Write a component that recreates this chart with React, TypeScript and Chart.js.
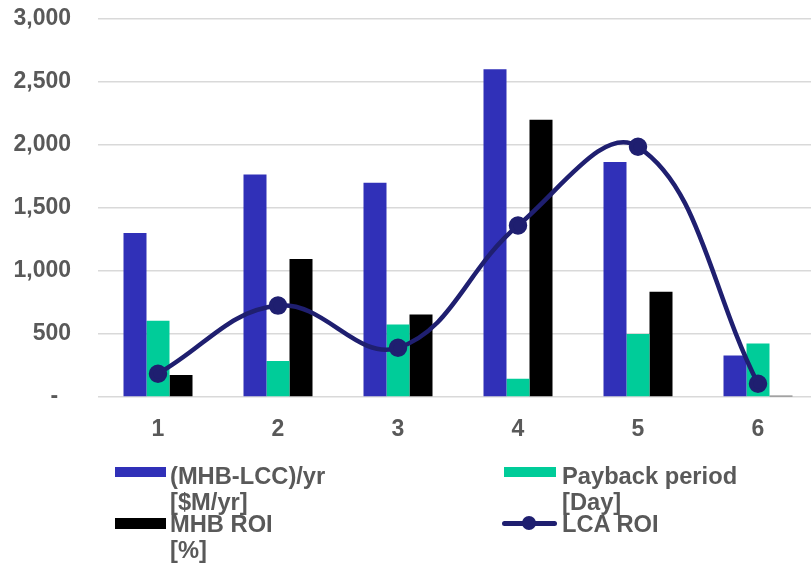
import { useEffect, useRef } from 'react';
import { Chart, registerables } from 'chart.js';

Chart.register(...registerables);

const categories = ['1', '2', '3', '4', '5', '6'];
const mhbLcc = [1300, 1765, 1700, 2600, 1865, 330];
const payback = [605, 285, 575, 145, 500, 425];
const mhbRoi = [175, 1095, 655, 2200, 835, 10];
const lcaRoi = [185, 725, 390, 1360, 1985, 105];

const seriesNames = ['(MHB-LCC)/yr [$M/yr]', 'Payback period [Day]', 'MHB ROI [%]', 'LCA ROI'];
const legendLines = [
  ['(MHB-LCC)/yr', '[$M/yr]'],
  ['Payback period', '[Day]'],
  ['MHB ROI', '[%]'],
  ['LCA ROI'],
];

const BLUE = '#3030B8';
const GREEN = '#00CC99';
const BLACK = '#000000';
const NAVY = '#1F1F70';
const TEXT = '#595959';
const FONT = '"Liberation Sans", Arial, sans-serif';

export default function App() {
  const ref = useRef<HTMLCanvasElement>(null);

  useEffect(() => {
    if (!ref.current) return;
    const chart = new Chart(ref.current, {
      type: 'bar',
      data: {
        labels: categories,
        datasets: [
          {
            type: 'line',
            label: seriesNames[3],
            data: lcaRoi,
            borderColor: NAVY,
            backgroundColor: NAVY,
            pointBackgroundColor: NAVY,
            pointBorderColor: NAVY,
            borderWidth: 4.5,
            pointRadius: 7,
            tension: 0.4,
            order: 0,
          } as any,
          { label: seriesNames[0], data: mhbLcc, backgroundColor: BLUE, order: 1 },
          { label: seriesNames[1], data: payback, backgroundColor: GREEN, order: 1 },
          { label: seriesNames[2], data: mhbRoi, backgroundColor: BLACK, order: 1 },
        ],
      },
      options: {
        responsive: false,
        animation: false,
        devicePixelRatio: 1,
        layout: { padding: { top: 0, right: 12, bottom: 126, left: 0 } },
        datasets: { bar: { categoryPercentage: 0.575, barPercentage: 1 } },
        plugins: { legend: { display: false }, tooltip: { enabled: false } },
        scales: {
          x: {
            grid: { display: false },
            border: { display: false },
            ticks: { color: TEXT, font: { family: FONT, size: 23, weight: 'bold' }, padding: 11 },
            afterFit: (s: any) => { s.height = 40; },
          },
          y: {
            min: 0,
            max: 3000,
            border: { display: false },
            grid: { color: '#D9D9D9', lineWidth: 1.5, drawTicks: false },
            ticks: {
              stepSize: 500,
              padding: 27,
              color: TEXT,
              font: { family: FONT, size: 23, weight: 'bold' },
              callback: (v: any) => (Number(v) === 0 ? '-  ' : Number(v).toLocaleString('en-US')),
            },
            afterFit: (s: any) => { s.width = 98; },
          },
        },
      },
    });
    return () => chart.destroy();
  }, []);

  const textStyle = {
    position: 'absolute' as const,
    fontFamily: FONT,
    fontWeight: 'bold' as const,
    fontSize: '23.7px',
    lineHeight: '26px',
    color: TEXT,
    whiteSpace: 'nowrap' as const,
  };

  return (
    <div style={{ position: 'absolute', left: 0, top: 0, width: 811, height: 563, overflow: 'hidden', background: '#fff' }}>
      <canvas ref={ref} width={830} height={585} style={{ position: 'absolute', left: 0, top: -22, display: 'block', width: 830, height: 585 }} />
      <div style={{ position: 'absolute', left: 115, top: 467, width: 51, height: 10, background: BLUE }} />
      <div style={{ ...textStyle, left: 170, top: 463 }}>{legendLines[0].map((l, i) => <div key={i}>{l}</div>)}</div>
      <div style={{ position: 'absolute', left: 504, top: 467, width: 52, height: 10, background: GREEN }} />
      <div style={{ ...textStyle, left: 562, top: 463 }}>{legendLines[1].map((l, i) => <div key={i}>{l}</div>)}</div>
      <div style={{ position: 'absolute', left: 115, top: 518, width: 51, height: 11, background: BLACK }} />
      <div style={{ ...textStyle, left: 170, top: 511 }}>{legendLines[2].map((l, i) => <div key={i}>{l}</div>)}</div>
      <div style={{ position: 'absolute', left: 502, top: 521, width: 55, height: 5, borderRadius: 3, background: NAVY }} />
      <div style={{ position: 'absolute', left: 522, top: 516, width: 14, height: 14, borderRadius: 7, background: NAVY }} />
      <div style={{ ...textStyle, left: 562, top: 511 }}>{legendLines[3].map((l, i) => <div key={i}>{l}</div>)}</div>
    </div>
  );
}
